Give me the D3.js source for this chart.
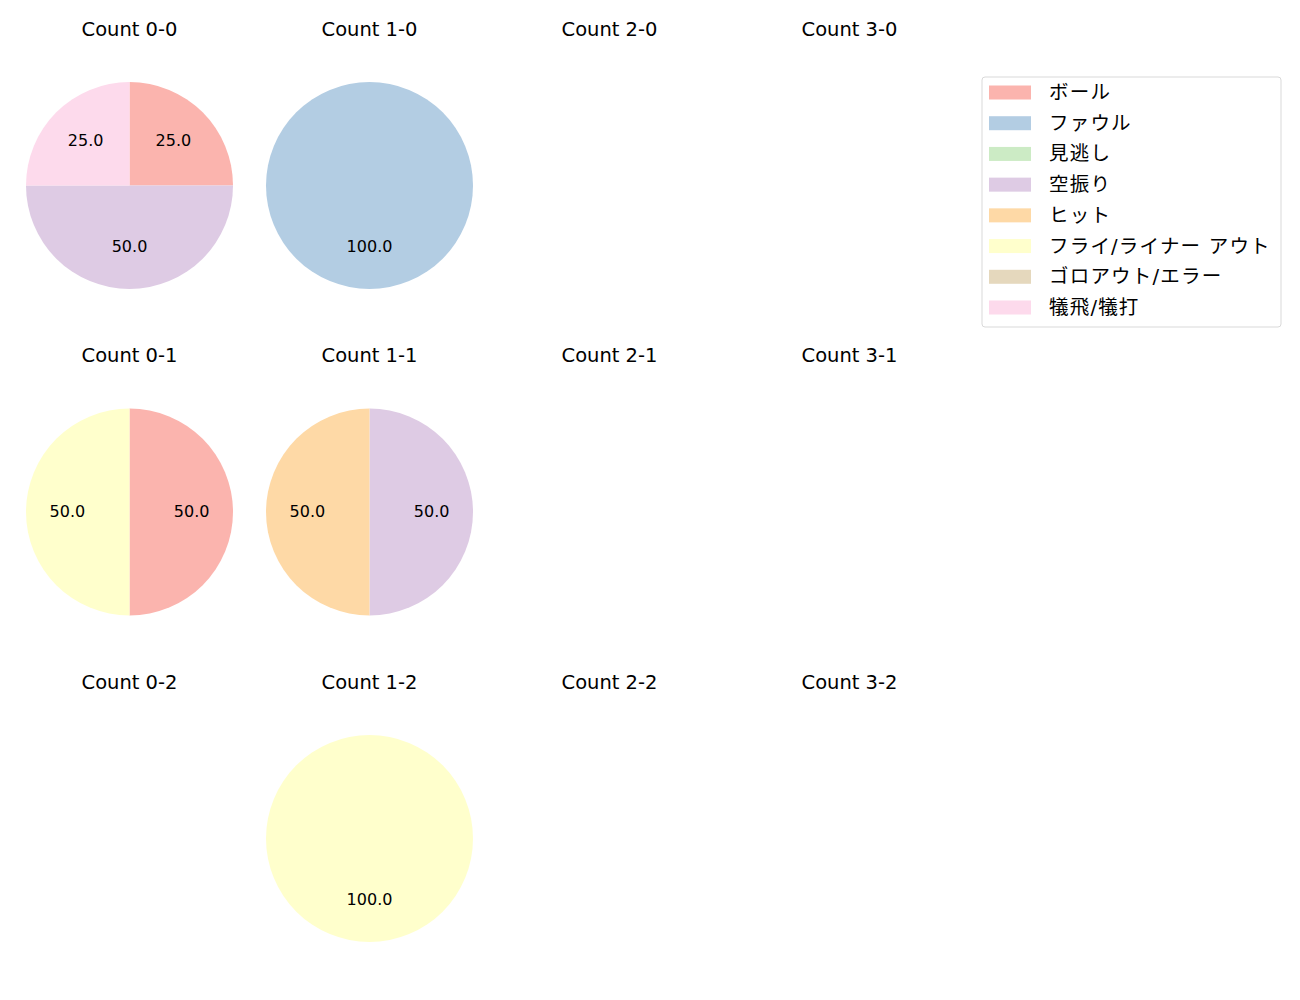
<!DOCTYPE html>
<html>
<head>
<meta charset="utf-8">
<script src="https://cdn.jsdelivr.net/npm/d3@7"></script>
<style>
  body { margin: 0; background: #fff; }
  text { font-family: "DejaVu Sans", "Noto Sans CJK JP", sans-serif; fill: #000; }
</style>
</head>
<body>
<div id="chart"></div>
<script>
const categories = ["ボール", "ファウル", "見逃し", "空振り", "ヒット", "フライ/ライナー アウト", "ゴロアウト/エラー", "犠飛/犠打"]
const colors = ["#fbb4ae", "#b3cde3", "#ccebc5", "#decbe4", "#fed9a6", "#ffffcc", "#e5d8bd", "#fddaec"]

const balls = [0, 1, 2, 3]
const strikes = [0, 1, 2]

// counts per category, same order as categories
const count00 = [1, 0, 0, 2, 0, 0, 0, 1]
const count10 = [0, 1, 0, 0, 0, 0, 0, 0]
const count01 = [1, 0, 0, 0, 0, 1, 0, 0]
const count11 = [0, 0, 0, 1, 1, 0, 0, 0]
const count12 = [0, 0, 0, 0, 0, 1, 0, 0]

const panels = [
  { b: 0, s: 0, values: count00 },
  { b: 1, s: 0, values: count10 },
  { b: 0, s: 1, values: count01 },
  { b: 1, s: 1, values: count11 },
  { b: 1, s: 2, values: count12 }
]

const width = 1300, height = 1000
const svg = d3.select("#chart").append("svg")
  .attr("width", width)
  .attr("height", height)

const x = d3.scalePoint().domain(balls).range([129.5, 849.5])
const y = d3.scalePoint().domain(strikes).range([185.5, 838.5])
const r = 103.5

// titles for every cell, even the empty ones
balls.forEach(b => {
  strikes.forEach(s => {
    svg.append("text")
      .attr("x", x(b))
      .attr("y", y(s) - 150)
      .attr("text-anchor", "middle")
      .style("font-size", "19.5px")
      .text(`Count ${b}-${s}`)
  })
})

const pie = d3.pie().sort(null).value(d => d.v)
const arc = d3.arc().innerRadius(0).outerRadius(r)
const labelArc = d3.arc().innerRadius(r * 0.6).outerRadius(r * 0.6)

panels.forEach(p => {
  const total = d3.sum(p.values)
  const data = p.values.map((v, i) => ({ v: v, i: i })).filter(d => d.v > 0)
  const g = svg.append("g")
    .attr("transform", `translate(${x(p.b)},${y(p.s)})`)
  const arcs = pie(data)

  g.selectAll("path")
    .data(arcs)
    .enter().append("path")
    .attr("d", arc)
    .attr("fill", d => colors[d.data.i])

  g.selectAll("text")
    .data(arcs)
    .enter().append("text")
    .attr("transform", d => `translate(${labelArc.centroid(d)})`)
    .attr("text-anchor", "middle")
    .attr("dy", 4.8)
    .style("font-size", "16px")
    .text(d => d3.format(".1f")(d.data.v / total * 100))
})

// legend
const legend = svg.append("g").attr("transform", "translate(982,77)")
legend.append("rect")
  .attr("x", 0).attr("y", 0)
  .attr("width", 299).attr("height", 250)
  .attr("rx", 3)
  .attr("fill", "#fff")
  .attr("stroke", "#d9d9d9")

const ly = d3.scaleLinear().domain([0, categories.length - 1]).range([15.5, 230.5])

const item = legend.selectAll(".item")
  .data(categories)
  .enter().append("g")
  .attr("class", "item")
  .attr("transform", (d, i) => `translate(0,${ly(i)})`)

item.append("rect")
  .attr("x", 7).attr("y", -7)
  .attr("width", 42).attr("height", 14)
  .attr("fill", (d, i) => colors[i])

item.append("text")
  .attr("x", 67)
  .attr("dominant-baseline", "central")
  .style("font-size", "19.5px")
  .style("letter-spacing", "1.2px")
  .text(d => d)
</script>
</body>
</html>
